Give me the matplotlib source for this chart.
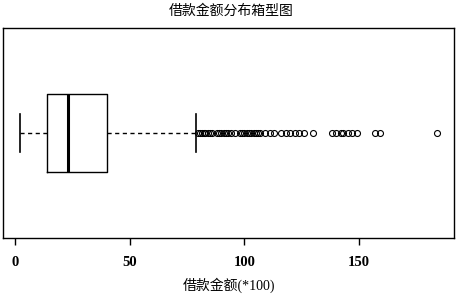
import matplotlib
matplotlib.use("Agg")
import matplotlib.pyplot as plt

plt.rcParams["font.family"] = ["Liberation Serif", "Noto Sans CJK SC"]

# box statistics (units of 100)
box_min = 2.2
box_q1 = 14.1
box_median = 23.2
box_q3 = 40.1
box_max = 79.0
outliers = [80, 80.7, 81.5, 82.3, 83, 84, 85, 86,
            88, 89, 90, 91, 92, 93, 94, 96,
            98, 99, 100, 101, 102, 103, 104, 105, 106, 107,
            109, 111, 113, 116, 118, 120, 122, 124, 126, 130,
            138, 140, 142, 143, 145, 147, 149, 157, 159, 184]
xticks = [0, 50, 100, 150]

title = "借款金额分布箱型图"
xlabel = "借款金额(*100)"

stats = [{
    "whislo": box_min, "q1": box_q1, "med": box_median,
    "q3": box_q3, "whishi": box_max, "fliers": outliers,
}]

fig = plt.figure(figsize=(4.58, 2.94), dpi=100)
ax = fig.add_axes([0.0066, 0.1905, 0.9847, 0.7143])

ax.bxp(stats, vert=False, positions=[1], widths=0.37, capwidths=0.185,
       boxprops=dict(color="black", linewidth=1.0),
       medianprops=dict(color="black", linewidth=2.2, solid_capstyle="butt"),
       whiskerprops=dict(color="black", linewidth=1.0, linestyle=(0, (3, 2.5))),
       capprops=dict(color="black", linewidth=1.2),
       flierprops=dict(marker="o", markerfacecolor="none", markeredgecolor="black",
                       markersize=4.3, markeredgewidth=0.8))

lo = min([box_min] + outliers)
hi = max([box_max] + outliers)
pad = (hi - lo) * 0.04
ax.set_xlim(lo - pad, hi + pad)
ax.set_ylim(0.5, 1.5)
ax.set_yticks([])
ax.set_xticks(xticks)
ax.set_xticklabels([str(t) for t in xticks], fontsize=10.5, fontweight="bold")
ax.tick_params(axis="x", direction="out", length=5, width=1, pad=8)
for s in ax.spines.values():
    s.set_linewidth(1.0)

ax.set_xlabel(xlabel, fontsize=10, labelpad=6)
fig.suptitle(title, fontsize=10, x=0.505, y=0.985)

fig.savefig("out.png", dpi=100)
